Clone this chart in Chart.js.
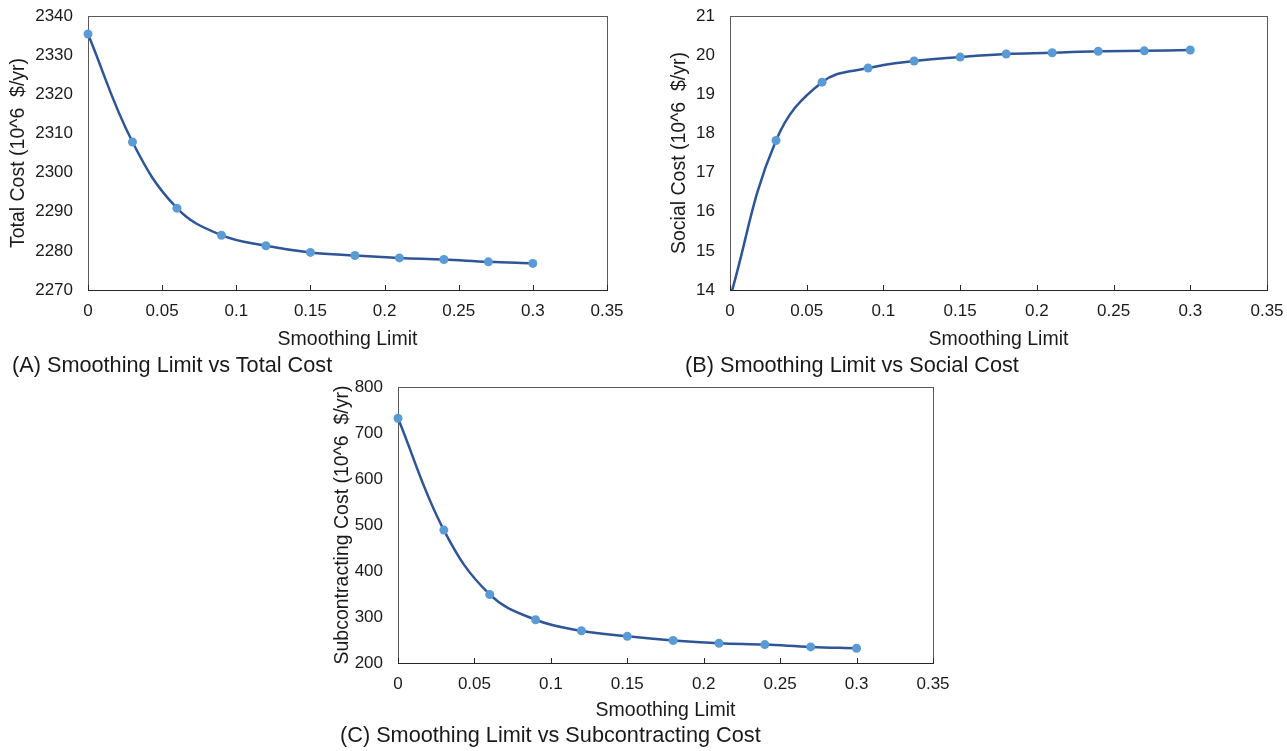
<!DOCTYPE html>
<html>
<head>
<meta charset="utf-8">
<script src="https://cdn.jsdelivr.net/npm/chart.js@4"></script>
<style>
body { margin: 0; background: #fff; width: 1287px; height: 751px; position: relative; overflow: hidden; font-family: "Liberation Sans", Arial, sans-serif; }
canvas { position: absolute; }
.cap { position: absolute; font-size: 21.7px; line-height: 1; color: #1a1a1a; white-space: nowrap; }
</style>
</head>
<body>
<canvas id="chartA"></canvas>
<canvas id="chartB"></canvas>
<canvas id="chartC"></canvas>
<div class="cap" style="left:12px; top:354px;">(A) Smoothing Limit vs Total Cost</div>
<div class="cap" style="left:685px; top:354px;">(B) Smoothing Limit vs Social Cost</div>
<div class="cap" style="left:340px; top:724px;">(C) Smoothing Limit vs Subcontracting Cost</div>
<script>
const xValues = [0, 0.03, 0.06, 0.09, 0.12, 0.15, 0.18, 0.21, 0.24, 0.27, 0.3];
const totalCost = [2335.4, 2307.8, 2290.9, 2284.0, 2281.3, 2279.6, 2278.8, 2278.2, 2277.8, 2277.2, 2276.8];
const socialCost = [13.8, 17.82, 19.31, 19.67, 19.85, 19.95, 20.03, 20.06, 20.10, 20.11, 20.13];
const subcontractingCost = [732, 489, 349, 294, 270, 258, 249, 243, 240, 235, 232];

const xTicks = [0, 0.05, 0.1, 0.15, 0.2, 0.25, 0.3, 0.35];
const totalTicks = [2270, 2280, 2290, 2300, 2310, 2320, 2330, 2340];
const socialTicks = [14, 15, 16, 17, 18, 19, 20, 21];
const subTicks = [200, 300, 400, 500, 600, 700, 800];

const textColor = '#1a1a1a';
const titleSize = 19.5;

// plot frame + small inside tick marks on the x axis
const frame = {
    id: 'frame',
    beforeDatasetsDraw(chart) {
        const {ctx, chartArea: a, scales: {x}} = chart;
        ctx.save();
        ctx.lineWidth = 1;
        ctx.strokeStyle = '#595959';
        ctx.strokeRect(Math.round(a.left) + 0.5, Math.round(a.top) + 0.5,
            Math.round(a.right - a.left), Math.round(a.bottom - a.top));
        ctx.strokeStyle = '#262626';
        ctx.beginPath();
        ctx.moveTo(a.left, Math.round(a.bottom) + 0.5);
        ctx.lineTo(a.right + 1, Math.round(a.bottom) + 0.5);
        x.ticks.forEach(t => {
            const px = Math.round(x.getPixelForValue(t.value)) + 0.5;
            ctx.moveTo(px, a.bottom);
            ctx.lineTo(px, a.bottom - 5);
        });
        ctx.stroke();
        ctx.restore();
    }
};

function makeChart(id, box, plot, yTitle, yTicks, values, yTitleX, xTitleY, clip) {
    const canvas = document.getElementById(id);
    canvas.width = box.w;
    canvas.height = box.h;
    canvas.style.left = box.x + 'px';
    canvas.style.top = box.y + 'px';
    const half = titleSize * 1.2 / 2;

    new Chart(canvas, {
        type: 'line',
        data: {
            datasets: [{
                data: xValues.map((x, i) => ({x: x, y: values[i]})),
                borderColor: '#2F5597',
                borderWidth: 2.5,
                pointBackgroundColor: '#5B9BD5',
                pointBorderColor: '#5B9BD5',
                pointBorderWidth: 0,
                pointRadius: 4.5,
                tension: 0.4,
                clip: clip
            }]
        },
        options: {
            responsive: false,
            animation: false,
            devicePixelRatio: 1,
            layout: {
                padding: {left: 0, top: plot.t - box.y, right: box.x + box.w - plot.r, bottom: 0}
            },
            plugins: {
                legend: {display: false},
                tooltip: {enabled: false}
            },
            scales: {
                x: {
                    type: 'linear',
                    min: xTicks[0],
                    max: xTicks[xTicks.length - 1],
                    // grid hidden; tickLength only spaces the labels
                    grid: {display: false, drawTicks: true, tickLength: 8},
                    border: {display: false},
                    afterBuildTicks: s => { s.ticks = xTicks.map(v => ({value: v})); },
                    afterFit: s => { s.height = box.y + box.h - plot.b; },
                    ticks: {
                        padding: 3,
                        color: textColor,
                        font: {size: 17},
                        maxRotation: 0,
                        autoSkip: false,
                        callback: v => String(+v.toFixed(2))
                    },
                    title: {
                        display: true,
                        text: 'Smoothing Limit',
                        color: textColor,
                        font: {size: titleSize},
                        padding: {top: 0, bottom: box.y + box.h - xTitleY - half}
                    }
                },
                y: {
                    type: 'linear',
                    min: yTicks[0],
                    max: yTicks[yTicks.length - 1],
                    grid: {display: false, drawTicks: true, tickLength: 12},
                    border: {display: false},
                    afterBuildTicks: s => { s.ticks = yTicks.map(v => ({value: v})); },
                    afterFit: s => { s.width = plot.l - box.x; },
                    ticks: {
                        padding: 3,
                        color: textColor,
                        font: {size: 17},
                        autoSkip: false,
                        callback: v => String(v)
                    },
                    title: {
                        display: true,
                        text: yTitle,
                        color: textColor,
                        font: {size: titleSize},
                        padding: {top: yTitleX - box.x - half, bottom: 0}
                    }
                }
            }
        },
        plugins: [frame]
    });
}

Chart.defaults.font.family = '"Liberation Sans", Arial, sans-serif';

makeChart('chartA', {x: 0, y: 0, w: 640, h: 360}, {l: 88, t: 16, r: 607, b: 290},
    'Total Cost (10^6  $/yr)', totalTicks, totalCost, 19, 340, false);
makeChart('chartB', {x: 640, y: 0, w: 660, h: 360}, {l: 730, t: 16, r: 1267, b: 290},
    'Social Cost (10^6  $/yr)', socialTicks, socialCost, 680, 340,
    {left: false, top: false, right: false, bottom: 0});
makeChart('chartC', {x: 320, y: 368, w: 650, h: 362}, {l: 398, t: 387, r: 933, b: 663},
    'Subcontracting Cost (10^6  $/yr)', subTicks, subcontractingCost, 343, 711, false);
</script>
</body>
</html>
